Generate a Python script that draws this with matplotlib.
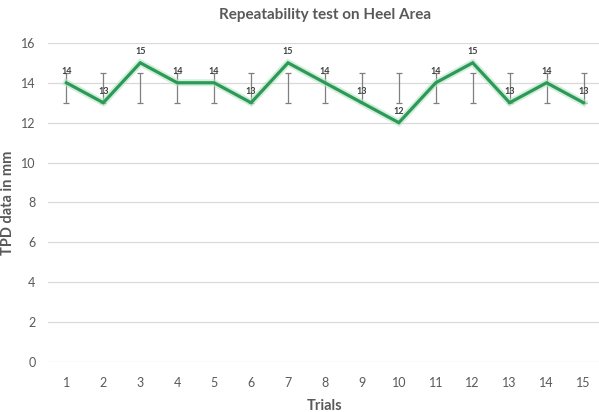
import matplotlib.pyplot as plt

trials = list(range(1, 16))
tpd = [14, 13, 15, 14, 14, 13, 15, 14, 13, 12, 14, 15, 13, 14, 13]
err_low = [13] * 15
err_high = [14.5] * 15

plt.rcParams['font.family'] = ['Lato', 'DejaVu Sans']
text_col = '#595959'

fig = plt.figure(figsize=(5.99, 4.12), dpi=100)
ax = fig.add_axes([0.08, 0.121, 0.925, 0.775])

# error bars drawn as vertical ranges with small caps
mid = [(lo + hi) / 2 for lo, hi in zip(err_low, err_high)]
half = [(hi - lo) / 2 for lo, hi in zip(err_low, err_high)]
ax.errorbar(trials, mid, yerr=half, fmt='none', ecolor='#7f7f7f',
            elinewidth=0.9, capsize=2.5, capthick=0.9, zorder=2)

ax.plot(trials, tpd, color='#b8e3c6', linewidth=5, alpha=0.6, zorder=3,
        solid_joinstyle='miter')
ax.plot(trials, tpd, color='#2c9a57', linewidth=2.3, zorder=4,
        solid_joinstyle='miter')

for x, v in zip(trials, tpd):
    ax.annotate(str(v), (x, v), xytext=(0, 5), textcoords='offset points',
                ha='center', va='bottom', fontsize=6.5, color='#404040',
                fontweight='bold', zorder=5)

ax.set_xlim(0.5, 15.5)
ax.set_ylim(0, 16)
ax.set_xticks(trials)
ax.set_yticks(range(0, 17, 2))
ax.grid(axis='y', color='#d9d9d9', linewidth=0.9)
ax.set_axisbelow(True)
for s in ax.spines.values():
    s.set_visible(False)
ax.tick_params(length=0, colors=text_col, labelsize=9, pad=11)
ax.tick_params(axis='y', pad=9)

ax.set_title('Repeatability test on Heel Area', fontsize=11, fontweight='bold',
             color=text_col, pad=17)
ax.set_xlabel('Trials', fontsize=10.5, fontweight='bold', color=text_col)
ax.set_ylabel('TPD data in mm', fontsize=10.5, fontweight='bold', color=text_col)
ax.yaxis.set_label_coords(-0.06, 0.5)
ax.xaxis.set_label_coords(0.5, -0.115)

fig.savefig('out.png', dpi=100)
